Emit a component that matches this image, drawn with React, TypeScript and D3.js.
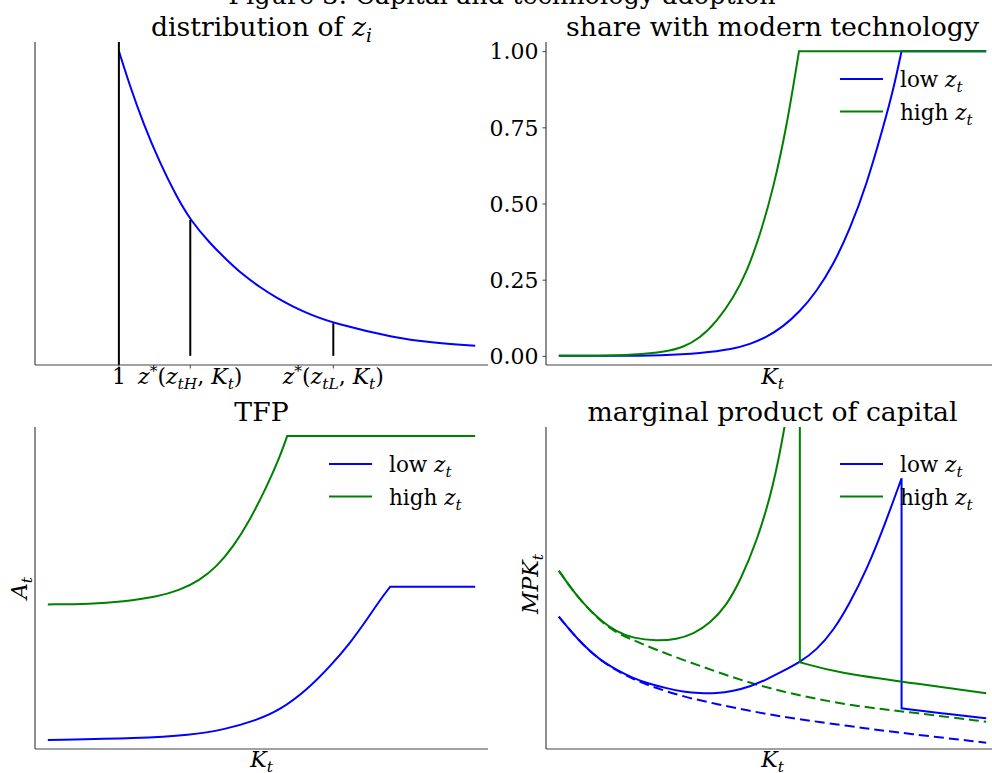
import * as d3 from "d3";
import { useEffect, useRef } from "react";

// distribution of z_i
const zGrid = [1, 1.132, 1.291, 1.49, 1.689, 1.851, 2.086, 2.285, 2.483, 2.682, 2.881, 3.079, 3.278, 3.556, 4.311, 4.708, 5.248];
const zDensity = [1, 0.885, 0.763, 0.632, 0.522, 0.446, 0.369, 0.315, 0.265, 0.225, 0.19, 0.161, 0.136, 0.107, 0.058, 0.044, 0.033];
const zMarks = [1.851, 3.556];

// share with modern technology
const shareLowK = [0, 0.096, 0.252, 0.33, 0.408, 0.447, 0.486, 0.525, 0.564, 0.603, 0.642, 0.681, 0.72, 0.759, 0.783, 0.802];
const shareLow = [0, 0, 0.0015, 0.0084, 0.0225, 0.038, 0.061, 0.096, 0.145, 0.211, 0.298, 0.415, 0.561, 0.75, 0.875, 1];
const shareHighK = [0, 0.096, 0.174, 0.252, 0.291, 0.33, 0.369, 0.408, 0.44, 0.471, 0.502, 0.533, 0.562];
const shareHigh = [0, 0, 0.0028, 0.0137, 0.028, 0.058, 0.112, 0.189, 0.276, 0.397, 0.55, 0.75, 1];

// TFP
const tfpLowK = [0, 0.216, 0.333, 0.411, 0.489, 0.543, 0.606, 0.66, 0.707, 0.746, 0.777, 0.801];
const tfpLow = [1, 1.005, 1.016, 1.033, 1.065, 1.098, 1.164, 1.241, 1.318, 1.395, 1.46, 1.504];
const tfpHighK = [0, 0.099, 0.177, 0.255, 0.309, 0.356, 0.395, 0.434, 0.473, 0.512, 0.543, 0.56];
const tfpHigh = [1.446, 1.447, 1.455, 1.471, 1.493, 1.526, 1.57, 1.636, 1.724, 1.833, 1.932, 2.0];

// marginal product of capital
const mpkLowK = [0, 0.026, 0.057, 0.096, 0.135, 0.174, 0.213, 0.252, 0.291, 0.33, 0.369, 0.408, 0.447, 0.486, 0.525, 0.564, 0.603, 0.642, 0.681, 0.72, 0.759, 0.802];
const mpkLow = [1.323, 1.19, 1.04, 0.89, 0.79, 0.707, 0.65, 0.607, 0.573, 0.557, 0.557, 0.58, 0.623, 0.695, 0.78, 0.867, 0.99, 1.18, 1.46, 1.79, 2.2, 2.707];
const mpkLowPostK = [0.802, 0.9, 1.0];
const mpkLowPost = [0.407, 0.355, 0.307];
const mpkHighK = [0, 0.026, 0.057, 0.096, 0.135, 0.174, 0.229, 0.276, 0.315, 0.354, 0.393, 0.424, 0.463, 0.502, 0.529, 0.546, 0.564];
const mpkHigh = [1.783, 1.623, 1.457, 1.29, 1.173, 1.107, 1.08, 1.097, 1.15, 1.257, 1.44, 1.68, 2.07, 2.623, 3.223, 3.7, 4.2];
const mpkHighPostK = [0.564, 0.657, 0.822, 1.0];
const mpkHighPost = [0.867, 0.757, 0.663, 0.557];
const mpkLowNoK = [0, 0.026, 0.057, 0.096, 0.135, 0.174, 0.213, 0.291, 0.369, 0.447, 0.525, 0.603, 0.72, 0.813, 1.0];
const mpkLowNo = [1.323, 1.19, 1.04, 0.89, 0.785, 0.7, 0.63, 0.523, 0.45, 0.38, 0.322, 0.273, 0.205, 0.155, 0.063];
const mpkHighNoK = [0, 0.026, 0.057, 0.096, 0.135, 0.174, 0.213, 0.291, 0.369, 0.447, 0.525, 0.603, 0.681, 0.759, 0.822, 1.0];
const mpkHighNo = [1.783, 1.623, 1.455, 1.285, 1.16, 1.09, 1.017, 0.89, 0.773, 0.66, 0.573, 0.5, 0.44, 0.397, 0.367, 0.273];

const seriesNames = ["low", "high"];
const seriesColors = ["#0000ff", "#008000"];

const FONT = "DejaVu Serif";
const BLUE = seriesColors[0];
const GREEN = seriesColors[1];

type Tok = { s: string; it?: boolean; sub?: boolean; sup?: boolean };

const mathText = (sel, toks: Tok[], size: number) => {
	let shift = 0;
	toks.forEach(tk => {
		const target = tk.sub ? size * 0.24 : tk.sup ? -size * 0.38 : 0;
		sel
			.append("tspan")
			.attr("dy", target - shift)
			.style("font-style", tk.it ? "italic" : "normal")
			.style("font-size", tk.sub || tk.sup ? `${size * 0.7}px` : `${size}px`)
			.text(tk.s);
		shift = target;
	});
};

const zt: Tok[] = [{ s: "z", it: true }, { s: "t", it: true, sub: true }];
const Kt: Tok[] = [{ s: "K", it: true }, { s: "t", it: true, sub: true }];

const zip = (xs: number[], ys: number[]) => xs.map((x, i) => [x, ys[i]] as [number, number]);

const createGraph = (node: SVGSVGElement) => {
	const svg = d3.select(node);
	svg.selectAll("*").remove();
	svg.style("font-family", FONT);

	const panels = [
		{ x0: 35, x1: 488, y0: 42, y1: 365 },
		{ x0: 546, x1: 999, y0: 42, y1: 365 },
		{ x0: 35, x1: 488, y0: 427, y1: 749 },
		{ x0: 546, x1: 999, y0: 427, y1: 749 }
	];

	// suptitle, mostly outside the picture like the original
	svg
		.append("text")
		.attr("x", 502)
		.attr("y", 4)
		.attr("text-anchor", "middle")
		.style("font-size", "25.5px")
		.text("Figure 3: Capital and technology adoption");

	const defs = svg.append("defs");
	panels.forEach((p, i) => {
		defs
			.append("clipPath")
			.attr("id", `clip${i}`)
			.append("rect")
			.attr("x", p.x0)
			.attr("y", p.y0)
			.attr("width", p.x1 - p.x0)
			.attr("height", p.y1 - p.y0);
	});

	const spines = p => {
		const g = svg.append("g").attr("stroke", "#444").attr("stroke-width", 1.2);
		g.append("line").attr("x1", p.x0).attr("x2", p.x0).attr("y1", p.y0).attr("y2", p.y1);
		g.append("line").attr("x1", p.x0).attr("x2", p.x1).attr("y1", p.y1).attr("y2", p.y1);
	};

	const title = (p, toks: Tok[]) => {
		const t = svg
			.append("text")
			.attr("x", (p.x0 + p.x1) / 2)
			.attr("y", p.y0 - 6)
			.attr("text-anchor", "middle");
		mathText(t, toks, 26.7);
	};

	const xlabel = (p, toks: Tok[], dy: number) => {
		const t = svg
			.append("text")
			.attr("x", (p.x0 + p.x1) / 2)
			.attr("y", p.y1 + dy)
			.attr("text-anchor", "middle");
		mathText(t, toks, 22);
	};

	const ylabel = (toks: Tok[], x: number, yc: number) => {
		const t = svg
			.append("text")
			.attr("transform", `translate(${x},${yc}) rotate(-90)`)
			.attr("text-anchor", "middle");
		mathText(t, toks, 22);
	};

	const lineGen = (x, y) =>
		d3
			.line<[number, number]>()
			.x(d => x(d[0]))
			.y(d => y(d[1]))
			.curve(d3.curveBasis);

	// join smooth segments with straight pieces (kinks and jumps)
	const series = (g, line, segs: [number, number][][], color: string, dash?: string) => {
		const d = segs.map((s, i) => (i === 0 ? line(s) : line(s).replace(/^M/, "L"))).join("");
		g.append("path")
			.attr("d", d)
			.attr("fill", "none")
			.attr("stroke", color)
			.attr("stroke-width", 2)
			.attr("stroke-dasharray", dash || null);
	};

	const legend = (p, x: number) => {
		seriesNames.forEach((n, i) => {
			const y = p.y0 + 37 + i * 32.5;
			svg
				.append("line")
				.attr("x1", x)
				.attr("x2", x + 43)
				.attr("y1", y)
				.attr("y2", y)
				.attr("stroke", seriesColors[i])
				.attr("stroke-width", 2);
			const t = svg
				.append("text")
				.attr("x", x + 60)
				.attr("y", y + 8);
			mathText(t, [{ s: n + " " }, ...zt], 21.5);
		});
	};

	const kScale = p => d3.scaleLinear().domain([-0.03, 1.03]).range([p.x0, p.x1]);

	// ---- panel 1: distribution of z_i
	{
		const p = panels[0];
		const x = d3.scaleLinear().domain([0, 5.4]).range([p.x0, p.x1]);
		const y = d3.scaleLinear().domain([-0.03, 1.03]).range([p.y1, p.y0]);
		const g = svg.append("g").attr("clip-path", "url(#clip0)");
		series(g, lineGen(x, y), [zip(zGrid, zDensity)], BLUE);
		g.append("line")
			.attr("x1", x(zGrid[0]))
			.attr("x2", x(zGrid[0]))
			.attr("y1", y.range()[0])
			.attr("y2", y.range()[1])
			.attr("stroke", "black")
			.attr("stroke-width", 2);
		zMarks.forEach(m => {
			const top = zDensity[zGrid.indexOf(m)];
			g.append("line")
				.attr("x1", x(m))
				.attr("x2", x(m))
				.attr("y1", y(0))
				.attr("y2", y(top))
				.attr("stroke", "black")
				.attr("stroke-width", 2);
		});
		spines(p);
		const ticks = [zGrid[0], ...zMarks];
		const tickLabels: Tok[][] = [
			[{ s: "1" }],
			[{ s: "z", it: true }, { s: "*", sup: true }, { s: "(" }, { s: "z", it: true }, { s: "tH", it: true, sub: true }, { s: ", " }, ...Kt, { s: ")" }],
			[{ s: "z", it: true }, { s: "*", sup: true }, { s: "(" }, { s: "z", it: true }, { s: "tL", it: true, sub: true }, { s: ", " }, ...Kt, { s: ")" }]
		];
		ticks.forEach((tv, i) => {
			svg.append("line")
				.attr("x1", x(tv))
				.attr("x2", x(tv))
				.attr("y1", p.y1)
				.attr("y2", p.y1 + 3.5)
				.attr("stroke", "#444");
			const t = svg
				.append("text")
				.attr("x", x(tv))
				.attr("y", p.y1 + 19)
				.attr("text-anchor", "middle");
			mathText(t, tickLabels[i], 22);
		});
		title(p, [{ s: "distribution of " }, { s: "z", it: true }, { s: "i", it: true, sub: true }]);
	}

	// ---- panel 2: share with modern technology
	{
		const p = panels[1];
		const x = kScale(p);
		const y = d3.scaleLinear().domain([-0.03, 1.03]).range([p.y1, p.y0]);
		const g = svg.append("g").attr("clip-path", "url(#clip1)");
		const line = lineGen(x, y);
		series(g, line, [zip(shareLowK, shareLow), [[0.802, 1], [1, 1]]], BLUE);
		series(g, line, [zip(shareHighK, shareHigh), [[0.562, 1], [1, 1]]], GREEN);
		spines(p);
		const axis = svg
			.append("g")
			.attr("transform", `translate(${p.x0},0)`)
			.call(
				d3
					.axisLeft(y)
					.tickValues([0, 0.25, 0.5, 0.75, 1])
					.tickFormat(d3.format(".2f"))
					.tickSize(3.5)
					.tickPadding(4)
			);
		axis.select(".domain").remove();
		axis.selectAll("line").attr("stroke", "#444");
		axis.selectAll("text").style("font-family", FONT).style("font-size", "22px").attr("dy", "0.35em");
		legend(p, 840);
		title(p, [{ s: "share with modern technology" }]);
		xlabel(p, Kt, 19);
	}

	// ---- panel 3: TFP
	{
		const p = panels[2];
		const x = kScale(p);
		const y = d3.scaleLinear().domain([0.97, 2.03]).range([p.y1, p.y0]);
		const g = svg.append("g").attr("clip-path", "url(#clip2)");
		const line = lineGen(x, y);
		series(g, line, [zip(tfpLowK, tfpLow), [[0.801, 1.504], [1, 1.504]]], BLUE);
		series(g, line, [zip(tfpHighK, tfpHigh), [[0.56, 2.0], [1, 2.0]]], GREEN);
		spines(p);
		legend(p, 329);
		title(p, [{ s: "TFP" }]);
		xlabel(p, Kt, 18);
		ylabel([{ s: "A", it: true }, { s: "t", it: true, sub: true }], 27, 588);
	}

	// ---- panel 4: marginal product of capital
	{
		const p = panels[3];
		const x = kScale(p);
		const y = d3.scaleLinear().domain([0, 3.22]).range([p.y1, p.y0]);
		const g = svg.append("g").attr("clip-path", "url(#clip3)");
		const line = lineGen(x, y);
		series(g, line, [zip(mpkLowNoK, mpkLowNo)], BLUE, "10,5");
		series(g, line, [zip(mpkHighNoK, mpkHighNo)], GREEN, "10,5");
		series(g, line, [zip(mpkLowK, mpkLow), zip(mpkLowPostK, mpkLowPost)], BLUE);
		series(g, line, [zip(mpkHighK, mpkHigh), zip(mpkHighPostK, mpkHighPost)], GREEN);
		spines(p);
		legend(p, 840);
		title(p, [{ s: "marginal product of capital" }]);
		xlabel(p, Kt, 18);
		ylabel([{ s: "MPK", it: true }, { s: "t", it: true, sub: true }], 538, 584);
	}
};

export default function App() {
	const ref = useRef<SVGSVGElement>(null);

	useEffect(() => {
		if (ref.current) createGraph(ref.current);
	}, []);

	return (
		<svg
			ref={ref}
			width={992}
			height={773}
			style={{ position: "absolute", left: 0, top: 0, background: "white" }}
		/>
	);
}
